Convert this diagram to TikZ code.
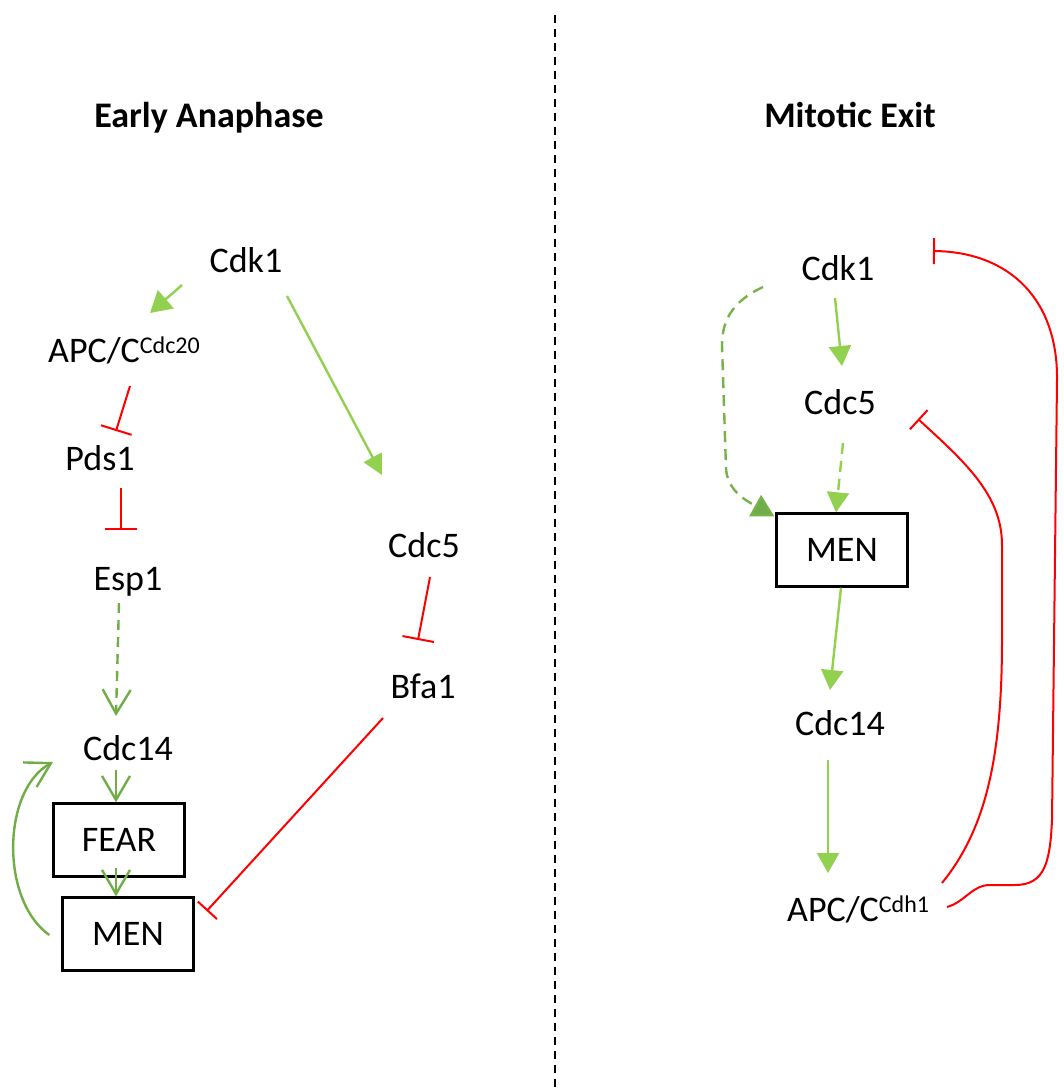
\documentclass[tikz,border=0pt]{standalone}
\usepackage{fontspec}
\setmainfont{Carlito}
\usetikzlibrary{arrows.meta,calc}
\definecolor{lgreen}{HTML}{92D050}
\definecolor{dgreen}{HTML}{70AD47}
\definecolor{inhred}{HTML}{FF0000}
\tikzset{
  lbl/.style={inner sep=0pt, anchor=base, font=\fontsize{36}{40}\selectfont},
  ttl/.style={inner sep=0pt, anchor=base, font=\fontsize{36}{40}\selectfont\bfseries},
  boxnode/.style={draw=black, line width=2.4pt, minimum width=131pt, minimum height=73pt,
    inner sep=0pt, font=\fontsize{36}{40}\selectfont},
  act/.style={draw=lgreen, line width=2.4pt, -{Triangle[width=24pt,length=21pt]}, fill=none},
  actdash/.style={act, dash pattern=on 11pt off 7pt},
  open/.style={draw=dgreen, line width=2.4pt, -{Straight Barb[width=28pt,length=24pt,line width=2.4pt]}},
  opendash/.style={open, dash pattern=on 10pt off 7pt},
  inh/.style={draw=inhred, line width=2pt, -{Bar[width=32pt,line width=2pt]}},
  inhs/.style={draw=inhred, line width=2pt, -{Bar[width=26pt,line width=2pt]}},
}
\newcommand{\supr}[1]{\raisebox{9pt}{\fontsize{24}{24}\selectfont #1}}
\begin{document}
\begin{tikzpicture}[x=1pt,y=-1pt]
\useasboundingbox (0,0) rectangle (1064,1090);

% separator between the two phases
\draw[black, line width=2pt, dash pattern=on 8pt off 6pt] (555,15) -- (555,1090);

% titles
\node[ttl] (tA) at (209,127) {Early Anaphase};
\node[ttl] (tB) at (850,127) {Mitotic Exit};

% ---- early anaphase ----
\node[lbl] (cdkL) at (246,272) {Cdk1};
\node[lbl, anchor=base west] (apcL) at (48,362) {APC/C\supr{Cdc20}};
\node[lbl] (pds) at (100,470) {Pds1};
\node[lbl] (esp) at (128,590) {Esp1};
\node[lbl] (cdc14L) at (128,760) {Cdc14};
\node[boxnode] (fear) at (119,840) {FEAR};
\node[boxnode] (menL) at (128,934) {MEN};
\node[lbl] (cdc5L) at (424,557) {Cdc5};
\node[lbl] (bfa) at (423,698) {Bfa1};

\draw[act] ($(cdkL.base)+(-64,13)$) -- ($(apcL.base west)+(102,-49)$);
\draw[act, -{Triangle[width=20pt,length=20pt]}] ($(cdkL.base)+(41,24)$) -- ($(cdc5L.base)+(-42,-82)$);
\draw[inh] ($(apcL.base west)+(82,24)$) -- ($(pds.base)+(16,-39)$);
\draw[inh] ($(pds.base)+(21,18)$) -- ($(esp.base)+(-7,-60)$);
\draw[opendash] ($(esp.base)+(-9,13)$) -- ($(cdc14L.base)+(-12,-44)$);
\draw[open] ($(cdc14L.base)+(-12,10)$) -- ($(fear.north)+(-3,0)$);
\draw[open] ($(fear.south)+(-3,-10)$) -- ($(menL.north)+(-12,0)$);
\draw[open] ($(menL.west)+(-12,1)$) .. controls (0,900) and (2,790) .. ($(cdc14L.base)+(-75,2)$);
\draw[inh] ($(cdc5L.base)+(6,20)$) -- ($(bfa.base)+(-5,-58)$);
\draw[inhs] ($(bfa.base)+(-40,20)$) -- ($(menL.east)+(12,-23)$);

% ---- mitotic exit ----
\node[lbl] (cdkR) at (838,280) {Cdk1};
\node[lbl] (cdc5R) at (840,414) {Cdc5};
\node[boxnode] (menR) at (842,550) {MEN};
\node[lbl] (cdc14R) at (840,735) {Cdc14};
\node[lbl, anchor=base west] (apcR) at (787,921) {APC/C\supr{Cdh1}};

\draw[act, -{Triangle[width=22pt,length=20pt]}] ($(cdkR.base)+(-3,18)$) -- ($(cdc5R.base)+(2,-48)$);
\draw[actdash, -{Triangle[width=22pt,length=20pt]}] ($(cdc5R.base)+(3,29)$) -- ($(menR.north)+(-6,0)$);
\draw[actdash, draw=dgreen!85!lgreen, -{Triangle[width=24pt,length=22pt,fill=dgreen]}]
  ($(cdkR.base)+(-75,7)$) .. controls (735,300) and (722,318) .. (722,345)
  -- (726,468) .. controls (727,490) and (745,500) .. ($(menR.north west)+(-1,4)$);
\draw[act, -{Triangle[width=22pt,length=20pt]}] ($(menR.south)+(-1,0)$) -- ($(cdc14R.base)+(-10,-45)$);
\draw[act, -{Triangle[width=22pt,length=20pt]}] ($(cdc14R.base)+(-12,25)$) -- ($(apcR.base west)+(41,-48)$);

\draw[inhs] ($(apcR.base west)+(155,-38)$) .. controls (985,830) and (1002,760) .. (1002,640)
  -- (1002,545) .. controls (1002,495) and (965,462) .. ($(cdc5R.base)+(78,5)$);
\draw[inhs] ($(apcR.base west)+(160,-14)$) .. controls (965,902) and (972,885) .. (990,885)
  -- (1015,885) .. controls (1045,885) and (1050,862) .. (1052,820)
  -- (1057,380) .. controls (1058,300) and (1010,252) .. ($(cdkR.base)+(95,-29)$);
\end{tikzpicture}
\end{document}
